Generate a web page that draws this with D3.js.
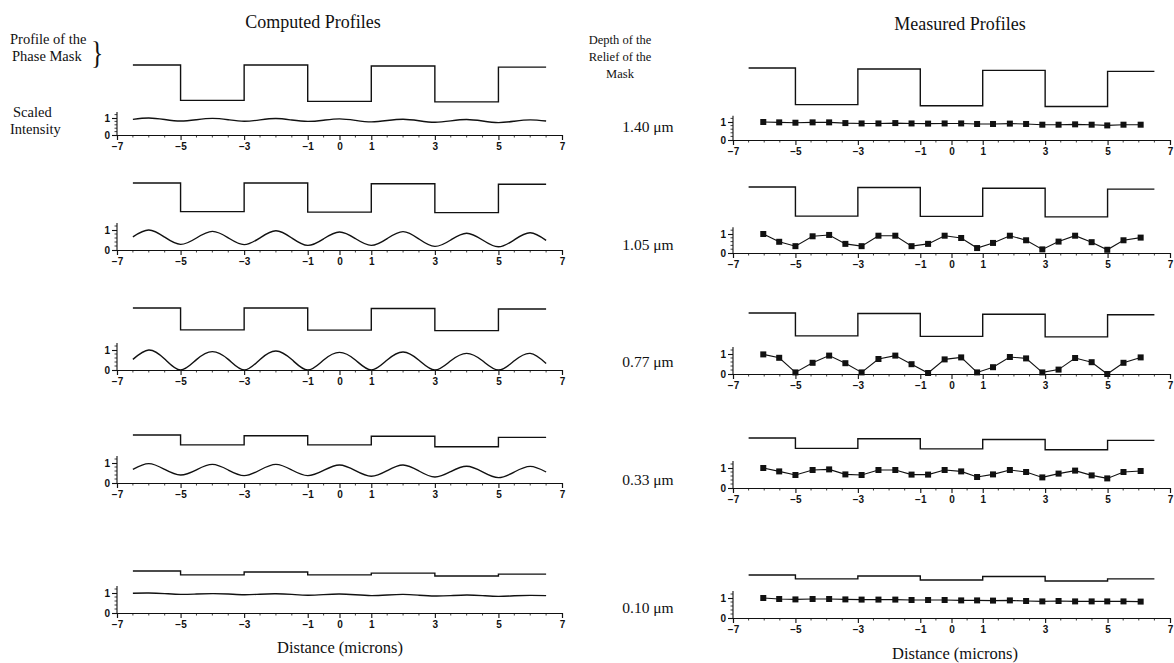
<!DOCTYPE html>
<html>
<head>
<meta charset="utf-8">
<script src="https://cdn.jsdelivr.net/npm/d3@7"></script>
<style>
  html, body { margin: 0; padding: 0; background: #fff; }
  svg { display: block; }
  .serif { font-family: "Liberation Serif", "Times New Roman", serif; fill: #111; }
  .tick-label { font-family: "Liberation Sans", Arial, sans-serif; font-size: 10px; font-weight: bold; fill: #111; }
</style>
</head>
<body>
<svg id="chart" width="1174" height="663"></svg>
<script>
// Relief depths of the phase masks (µm), one per row
const depths = ["1.40", "1.05", "0.77", "0.33", "0.10"];

// Mask segment boundaries (µm) and surface level of each segment (µm)
const maskEdges = [-6.5, -5, -3, -1, 1, 3, 5, 6.5];
const maskComputed = [
  [0, -1.36, 0, -1.40, -0.04, -1.42, -0.08],
  [0, -1.10, 0, -1.12, -0.03, -1.14, -0.05],
  [0, -0.84, 0, -0.85, -0.02, -0.87, -0.04],
  [0, -0.38, -0.03, -0.38, -0.05, -0.45, -0.09],
  [0, -0.15, -0.04, -0.15, -0.08, -0.19, -0.12]
];
const maskMeasured = [
  [0, -1.41, -0.04, -1.45, -0.09, -1.48, -0.13],
  [0, -1.12, -0.02, -1.13, -0.05, -1.15, -0.08],
  [0, -0.88, -0.02, -0.90, -0.05, -0.92, -0.07],
  [0, -0.40, -0.03, -0.42, -0.06, -0.45, -0.09],
  [0, -0.15, -0.04, -0.19, -0.06, -0.23, -0.15]
];

// Computed scaled intensity, sampled every 0.5 µm
const xComputed = [-6.5, -6, -5.5, -5, -4.5, -4, -3.5, -3, -2.5, -2, -1.5, -1, -0.5, 0,
                   0.5, 1, 1.5, 2, 2.5, 3, 3.5, 4, 4.5, 5, 5.5, 6, 6.5];
const intensityComputed = [
  [0.92, 1.00, 0.91, 0.82, 0.90, 0.98, 0.90, 0.81, 0.89, 0.97, 0.88, 0.80, 0.87, 0.95,
   0.86, 0.77, 0.85, 0.93, 0.84, 0.75, 0.83, 0.91, 0.82, 0.73, 0.81, 0.89, 0.82],
  [0.66, 1.00, 0.64, 0.28, 0.60, 0.93, 0.61, 0.27, 0.61, 0.96, 0.60, 0.23, 0.56, 0.90,
   0.57, 0.23, 0.57, 0.92, 0.55, 0.18, 0.50, 0.84, 0.50, 0.16, 0.51, 0.86, 0.48],
  [0.53, 1.00, 0.55, 0.00, 0.52, 0.92, 0.53, 0.00, 0.53, 0.95, 0.52, 0.00, 0.50, 0.88,
   0.50, 0.00, 0.50, 0.90, 0.49, 0.00, 0.46, 0.83, 0.46, 0.00, 0.46, 0.83, 0.33],
  [0.68, 0.97, 0.68, 0.40, 0.66, 0.93, 0.65, 0.37, 0.65, 0.93, 0.65, 0.37, 0.63, 0.90,
   0.62, 0.34, 0.62, 0.90, 0.60, 0.30, 0.57, 0.84, 0.56, 0.27, 0.55, 0.83, 0.55],
  [0.99, 1.00, 0.97, 0.93, 0.95, 0.97, 0.95, 0.91, 0.94, 0.96, 0.93, 0.89, 0.92, 0.95,
   0.91, 0.87, 0.90, 0.93, 0.89, 0.85, 0.87, 0.90, 0.87, 0.83, 0.86, 0.88, 0.87]
];

// Measured scaled intensity at the scan positions
const xMeasured = [-6.03, -5.52, -5.00, -4.45, -3.92, -3.40, -2.88, -2.34, -1.80, -1.28, -0.75, -0.22,
                   0.31, 0.82, 1.33, 1.87, 2.39, 2.91, 3.43, 3.96, 4.49, 4.99, 5.51, 6.06];
const intensityMeasured = [
  [1.00, 0.98, 0.96, 0.98, 0.98, 0.94, 0.92, 0.92, 0.94, 0.92, 0.91, 0.92,
   0.92, 0.89, 0.89, 0.91, 0.89, 0.85, 0.85, 0.87, 0.85, 0.81, 0.85, 0.85],
  [1.00, 0.59, 0.36, 0.88, 0.95, 0.48, 0.36, 0.91, 0.91, 0.36, 0.48, 0.91,
   0.79, 0.26, 0.53, 0.91, 0.67, 0.19, 0.60, 0.91, 0.57, 0.17, 0.67, 0.81],
  [0.98, 0.81, 0.08, 0.56, 0.92, 0.54, 0.08, 0.75, 0.92, 0.49, 0.05, 0.73,
   0.83, 0.08, 0.34, 0.85, 0.78, 0.08, 0.22, 0.80, 0.59, 0.00, 0.56, 0.83],
  [1.00, 0.83, 0.65, 0.90, 0.93, 0.68, 0.65, 0.90, 0.90, 0.67, 0.67, 0.90,
   0.83, 0.55, 0.68, 0.90, 0.80, 0.53, 0.72, 0.87, 0.63, 0.48, 0.80, 0.85],
  [1.00, 0.95, 0.93, 0.95, 0.95, 0.93, 0.92, 0.92, 0.92, 0.90, 0.90, 0.90,
   0.88, 0.88, 0.87, 0.88, 0.85, 0.83, 0.85, 0.83, 0.83, 0.83, 0.83, 0.82]
];

// Axis tick values and their labels
const xTickValues = [-7, -5, -3, -1, 0, 1, 3, 5, 7];
const xMinorTicks = [-6.5, -6, -5.5, -4.5, -4, -3.5, -2.5, -2, -1.5, -0.5, 0.5, 1.5, 2, 2.5, 3.5, 4, 4.5, 5.5, 6, 6.5];
const yTickValues = [0, 1];
const yMinorTicks = [0.2, 0.4, 0.6, 0.8, 1.2];

// ---- layout ----
const svg = d3.select("#chart");
const columns = [
  { range: [117, 562], rows: [
      { zero: 135, unit: 17, maskTop: 65 },
      { zero: 250, unit: 20, maskTop: 183 },
      { zero: 370, unit: 20, maskTop: 308 },
      { zero: 483, unit: 20, maskTop: 435 },
      { zero: 613, unit: 20, maskTop: 571 } ],
    mask: maskComputed, values: intensityComputed, xs: xComputed, markers: false },
  { range: [733, 1170], rows: [
      { zero: 140, unit: 18, maskTop: 68 },
      { zero: 253, unit: 19, maskTop: 187 },
      { zero: 374, unit: 20, maskTop: 313 },
      { zero: 488, unit: 20, maskTop: 438 },
      { zero: 618, unit: 20, maskTop: 575 } ],
    mask: maskMeasured, values: intensityMeasured, xs: xMeasured, markers: true }
];
const maskPxPerMicron = 26;

columns.forEach(col => {
  const x = d3.scaleLinear().domain([-7, 7]).range(col.range);

  col.rows.forEach((row, i) => {
    const y = d3.scaleLinear().domain([0, 1]).range([row.zero, row.zero - row.unit]);
    const g = svg.append("g");

    // x axis: major ticks with labels, minor ticks between
    const xAxis = d3.axisBottom(x).tickValues(xTickValues).tickSize(5).tickPadding(3)
      .tickFormat(d3.format("d"));
    const gx = g.append("g").attr("transform", `translate(0,${row.zero})`).call(xAxis);
    gx.select(".domain").attr("stroke", "#111").attr("stroke-width", 1.1);
    gx.selectAll(".tick line").attr("stroke", "#111").attr("stroke-width", 1.1);
    gx.selectAll(".tick text").attr("class", "tick-label").attr("font-size", null).attr("font-family", null);
    gx.selectAll(".minor").data(xMinorTicks).join("line")
      .attr("x1", d => x(d)).attr("x2", d => x(d)).attr("y1", 0).attr("y2", 2.5)
      .attr("stroke", "#111").attr("stroke-width", 0.8);

    // y axis: 0 and 1 with minor ticks, extending a little above 1
    const yAxis = d3.axisLeft(y).tickValues(yTickValues).tickSize(5).tickPadding(2)
      .tickFormat(d3.format("d"));
    const gy = g.append("g").attr("transform", `translate(${x(-7)},0)`).call(yAxis);
    gy.select(".domain").remove();
    gy.append("line").attr("x1", 0).attr("x2", 0).attr("y1", y(0)).attr("y2", y(1.35))
      .attr("stroke", "#111").attr("stroke-width", 1.1);
    gy.selectAll(".tick line").attr("stroke", "#111").attr("stroke-width", 1.1);
    gy.selectAll(".tick text").attr("class", "tick-label").attr("font-size", null).attr("font-family", null);
    gy.selectAll(".minor").data(yMinorTicks).join("line")
      .attr("x1", -2.5).attr("x2", 0).attr("y1", d => y(d)).attr("y2", d => y(d))
      .attr("stroke", "#111").attr("stroke-width", 0.8);

    // phase mask relief profile as a step line
    const levels = col.mask[i];
    const steps = [];
    levels.forEach((lv, k) => {
      steps.push([maskEdges[k], lv]);
      steps.push([maskEdges[k + 1], lv]);
    });
    const my = d => row.maskTop - d * maskPxPerMicron;
    g.append("path")
      .attr("d", d3.line().x(d => x(d[0])).y(d => my(d[1]))(steps))
      .attr("fill", "none").attr("stroke", "#111").attr("stroke-width", 1.4);

    // intensity profile
    const pts = col.xs.map((xv, k) => [xv, col.values[i][k]]);
    const line = d3.line().x(d => x(d[0])).y(d => y(d[1]))
      .curve(col.markers ? d3.curveLinear : d3.curveNatural);
    g.append("path").attr("d", line(pts))
      .attr("fill", "none").attr("stroke", "#111")
      .attr("stroke-width", col.markers ? 1.1 : 1.4);

    if (col.markers) {
      g.selectAll("rect.pt").data(pts).join("rect")
        .attr("class", "pt")
        .attr("x", d => x(d[0]) - 3).attr("y", d => y(d[1]) - 3)
        .attr("width", 6).attr("height", 6).attr("fill", "#111");
    }
  });
});

// ---- titles and annotations ----
const text = (t, xp, yp, size, anchor) =>
  svg.append("text").attr("class", "serif").attr("x", xp).attr("y", yp)
    .attr("font-size", size).attr("text-anchor", anchor || "start").text(t);

text("Computed Profiles", 313, 28, 18, "middle");
text("Measured Profiles", 960, 30, 18, "middle");

text("Profile of the", 10, 44, 14.5);
text("Phase Mask", 12, 61, 14.5);
svg.append("text").attr("class", "serif")
  .attr("font-size", 32).attr("transform", "translate(91,64) scale(0.8,1)").text("}");

text("Scaled", 13, 117, 14.5);
text("Intensity", 10, 134, 14.5);

text("Depth of the", 620, 44, 12.5, "middle");
text("Relief of the", 620, 61, 12.5, "middle");
text("Mask", 620, 78, 12.5, "middle");

const depthY = [132, 250, 367, 485, 613];
depths.forEach((d, i) => text(d + " \u03bcm", 648, depthY[i], 15.5, "middle"));

text("Distance (microns)", 340, 653, 16.5, "middle");
text("Distance (microns)", 955, 659, 16.5, "middle");
</script>
</body>
</html>
